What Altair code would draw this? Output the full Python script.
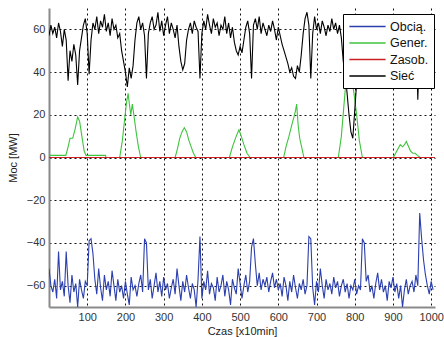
import altair as alt
import pandas as pd

NAMES = ["Obcią.", "Gener.", "Zasob.", "Sieć"]
COLORS = ["#2b3fae", "#3ec43e", "#cc2020", "#000000"]

X_TICKS = [100, 200, 300, 400, 500, 600, 700, 800, 900, 1000]
Y_TICKS = [-60, -40, -20, 0, 20, 40, 60]

# Sieć (black) sampled every 5 units from x=0
grid_x = list(range(0, 1010, 5))
siec_y = [
    57, 62, 58, 61, 56, 63, 59, 52, 60, 55,
    36, 50, 45, 53, 48, 34, 50, 56, 62, 65,
    58, 39, 55, 63, 60, 66, 58, 64, 61, 67,
    59, 63, 57, 65, 60, 62, 56, 58, 50, 45,
    40, 33, 42, 37, 43, 55, 63, 66, 60, 63,
    57, 37, 58, 63, 66, 60, 62, 68, 59, 64,
    57, 62, 66, 58, 63, 60, 56, 62, 52, 45,
    41, 44, 55, 60, 63, 58, 64, 61, 59, 37,
    58, 64, 60, 67, 62, 58, 65, 61, 63, 57,
    62, 60, 66, 58, 63, 56, 61, 54, 50, 48,
    52, 49, 55, 61, 64, 58, 37, 62, 65, 60,
    66, 58, 63, 60, 57, 62, 59, 64, 60, 55,
    61, 57, 53, 50, 47, 44, 40, 42, 38, 37,
    43, 40, 48, 58, 65, 68, 62, 37, 58, 66,
    60, 63, 58, 64, 61, 57, 62, 59, 65, 60,
    63, 58, 62, 56, 45, 40, 30, 20, 12, 9,
    22, 35, 50, 60, 63, 58, 62, 60, 66, 59,
    62, 58, 64, 60, 57, 63, 60, 65, 59, 62,
    58, 63, 61, 60, 64, 57, 62, 59, 63, 60,
    62, 58, 64, 27, 55, 60, 63, 58, 62, 57,
    60, 62,
]

# Obcią. (blue) sampled every 5 units from x=0
obc_y = [
    -52, -60, -63, -57, -66, -44, -62, -58, -65, -44,
    -60, -68, -55, -63, -59, -70, -57, -62, -66, -58,
    -60, -39, -38, -45, -57, -64, -52, -61, -67, -55,
    -62, -58, -65, -53, -60, -67, -57, -63, -60, -66,
    -58, -64, -69, -56, -62, -60, -65, -59, -55, -63,
    -38, -40, -62, -57, -66, -60, -54, -63, -58, -65,
    -56, -62, -59, -66, -61, -57, -64, -52, -60, -67,
    -58, -63, -55, -61, -66, -59, -62, -70, -57, -37,
    -66, -58, -62, -53, -64, -59, -61, -67, -56, -63,
    -60, -55, -65, -58, -62, -69, -57, -61, -64, -52,
    -59, -66, -60, -55, -63, -58, -42, -38, -50, -60,
    -54, -62, -57, -60, -56, -63, -58, -54, -61, -57,
    -62, -59, -65, -56, -60, -67, -58, -63, -55, -61,
    -66, -59, -62, -57, -64, -60, -37, -38, -61, -69,
    -58, -63, -52, -60, -66, -57, -62, -59, -64, -56,
    -61, -58, -65, -60, -57, -63, -59, -66, -60, -62,
    -57, -64, -60, -62, -38, -40, -58, -55, -63, -60,
    -66, -59, -54, -62, -57, -63, -60, -67, -58, -61,
    -56, -63, -59, -66, -60, -70, -62, -57, -64, -60,
    -58, -63, -55, -60, -26, -38, -48, -55, -60, -64,
    -58, -62,
]

# Gener. (green) read at irregular positions
gen_x = [0, 44, 50, 55, 62, 68, 75, 80, 86, 92, 97, 148, 149,
         185, 192, 198, 203, 207, 211, 214, 218, 222, 228, 234, 240,
         330, 336, 342, 348, 354, 360, 366, 372, 378, 384,
         472, 480, 490, 497, 503, 510, 518, 526,
         614, 620, 628, 635, 641, 645, 648, 652, 656, 661, 667,
         757, 765, 772, 778, 785, 792, 798, 805, 812, 820,
         901, 910, 919, 925, 930, 935, 941, 946, 952, 958, 964, 971, 1010]
gen_y = [1, 1, 5, 9, 9, 13, 19, 17, 10, 3, 1, 1, 0,
         0, 8, 18, 26, 30, 24, 20, 25, 20, 12, 5, 0,
         0, 4, 9, 12, 14, 12, 8, 5, 2, 0,
         0, 5, 10, 13, 10, 6, 2, 0,
         0, 5, 10, 15, 19, 22, 25, 15, 9, 5, 0,
         0, 10, 25, 38, 42, 38, 30, 20, 8, 0,
         0, 3, 6, 5, 6, 7.5, 5, 3, 2, 2, 1, 0, 0]

# Zasob. (red)
zas_x = [0, 1010]
zas_y = [0, 0]

dfs = [
    pd.DataFrame({"x": grid_x, "y": obc_y, "series": NAMES[0]}),
    pd.DataFrame({"x": gen_x, "y": gen_y, "series": NAMES[1]}),
    pd.DataFrame({"x": zas_x, "y": zas_y, "series": NAMES[2]}),
    pd.DataFrame({"x": grid_x, "y": siec_y, "series": NAMES[3]}),
]

FONT = "Liberation Sans"

x_enc = alt.X("x:Q", scale=alt.Scale(domain=[0, 1010], nice=False, zero=False),
              axis=alt.Axis(values=X_TICKS, format="d", title="Czas [x10min]",
                            labelPadding=4, titlePadding=3))
y_enc = alt.Y("y:Q", scale=alt.Scale(domain=[-70, 70], nice=False),
              axis=alt.Axis(values=Y_TICKS, format="d", title="Moc [MW]",
                            labelPadding=4, titlePadding=8))
c_enc = alt.Color("series:N", scale=alt.Scale(domain=NAMES, range=COLORS),
                  legend=alt.Legend(title=None, orient="none", legendX=294, legendY=6,
                                    fillColor="white", strokeColor="black", padding=5,
                                    symbolType="M-2.7,0H2.7", symbolSize=180,
                                    symbolOffset=12, symbolStrokeWidth=1.3,
                                    labelFontSize=12.5, labelFont=FONT,
                                    labelColor="#111", rowPadding=2.5,
                                    labelOffset=15))

layers = [
    alt.Chart(d).mark_line(strokeWidth=1.1, clip=True).encode(x=x_enc, y=y_enc, color=c_enc)
    for d in dfs
]

chart = alt.layer(*layers).properties(
    width=386, height=299,
    padding={"left": 49, "top": 8, "right": 9, "bottom": 30},
    autosize=alt.AutoSizeParams(type="none"),
).configure_view(stroke=None).configure_axis(
    labelFont=FONT, titleFont=FONT, labelFontSize=11, titleFontSize=11,
    titleFontWeight="normal", labelColor="#333", titleColor="#222",
    domainColor="#8a8a8a", domainWidth=2, ticks=False,
    grid=True, gridColor="#111", gridDash=[2, 3], gridWidth=1, gridOpacity=1,
)

chart.save("out.html", embed_options={"renderer": "svg", "actions": False})
